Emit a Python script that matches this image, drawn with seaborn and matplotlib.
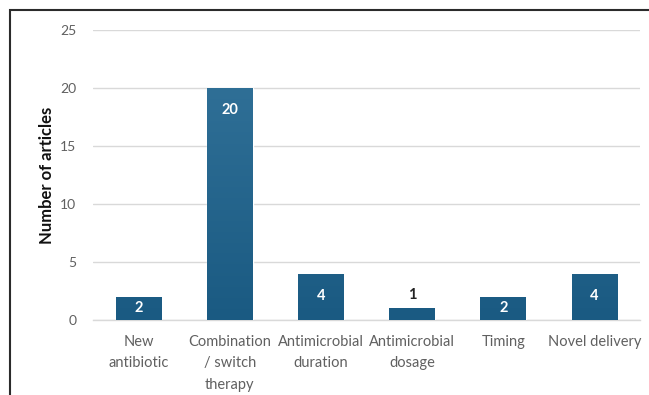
import numpy as np
import pandas as pd
import matplotlib
matplotlib.use("Agg")
import matplotlib.pyplot as plt
from matplotlib.colors import LinearSegmentedColormap
from matplotlib.patches import Rectangle
import seaborn as sns

# Article counts per intervention category
categories = ["New\nantibiotic", "Combination\n/ switch\ntherapy", "Antimicrobial\nduration",
              "Antimicrobial\ndosage", "Timing", "Novel delivery"]
counts = [2, 20, 4, 1, 2, 4]
y_ticks = [0, 5, 10, 15, 20, 25]

df = pd.DataFrame({"category": categories, "count": counts})

sns.set_theme(style="white")
plt.rcParams["font.family"] = ["Lato", "DejaVu Sans"]

DPI = 100
fig = plt.figure(figsize=(6.49, 3.95), dpi=DPI)
fig.patch.set_facecolor("white")
ax = fig.add_axes([93 / 649, 75 / 395, (640 - 93) / 649, 290 / 395])

sns.barplot(data=df, x="category", y="count", color="#1d5c83", width=0.5,
            saturation=1, ax=ax, zorder=3)

ax.set_ylim(0, 25)
ax.set_xlim(-0.5, len(categories) - 0.5)
ax.set_yticks(y_ticks)
ax.set_yticklabels([str(t) for t in y_ticks])
ax.yaxis.grid(True, color="#d9d9d9", linewidth=1.0, zorder=0)
ax.set_axisbelow(True)
for s in ["top", "right", "left"]:
    ax.spines[s].set_visible(False)
ax.spines["bottom"].set_color("#d9d9d9")
ax.spines["bottom"].set_linewidth(1.0)
ax.tick_params(axis="both", length=0, colors="#606060", labelsize=10)
ax.tick_params(axis="x", labelsize=10.5, pad=11)
ax.tick_params(axis="y", pad=12)
for lbl in ax.get_xticklabels():
    lbl.set_linespacing(1.65)
ax.set_xlabel("")
ax.set_ylabel("Number of articles", fontsize=12, fontweight="bold", color="#111111",
              labelpad=4)

# Vertical gradient fill, lighter towards the top of the value range
cmap = LinearSegmentedColormap.from_list("bar_grad", ["#1a5a82", "#2f6f96"])
grad = np.linspace(0, 1, 256).reshape(-1, 1)
for bar in ax.patches:
    img = ax.imshow(grad, cmap=cmap, aspect="auto", origin="lower",
                    extent=(-0.5, len(categories) - 0.5, 0, 20), zorder=3.5,
                    interpolation="bilinear")
    img.set_clip_path(bar)
ax.set_xlim(-0.5, len(categories) - 0.5)
ax.set_ylim(0, 25)

# Value labels: inside the top of the bar, or above it when the bar is too short
px_per_unit = ax.get_position().height * fig.get_figheight() * DPI / 25
for i, v in enumerate(counts):
    bar_px = v * px_per_unit
    if v >= 2:
        off_px = min(22, bar_px / 2)
        ax.annotate(str(v), (i, v), xytext=(0, -off_px * 72 / DPI), textcoords="offset points",
                    ha="center", va="center", color="white", fontsize=10.5,
                    fontweight="bold", zorder=5)
    else:
        ax.annotate(str(v), (i, v), xytext=(0, 13 * 72 / DPI), textcoords="offset points",
                    ha="center", va="center", color="#222222", fontsize=10.5,
                    fontweight="bold", zorder=5)

# Outer frame around the chart area
frame = Rectangle((10 / 649, -0.1), 1.2, (395 - 10) / 395 + 0.1, transform=fig.transFigure,
                  fill=False, edgecolor="#2b2b2b", linewidth=1.5, zorder=10)
fig.add_artist(frame)

fig.savefig("out.png", dpi=DPI, facecolor="white")
